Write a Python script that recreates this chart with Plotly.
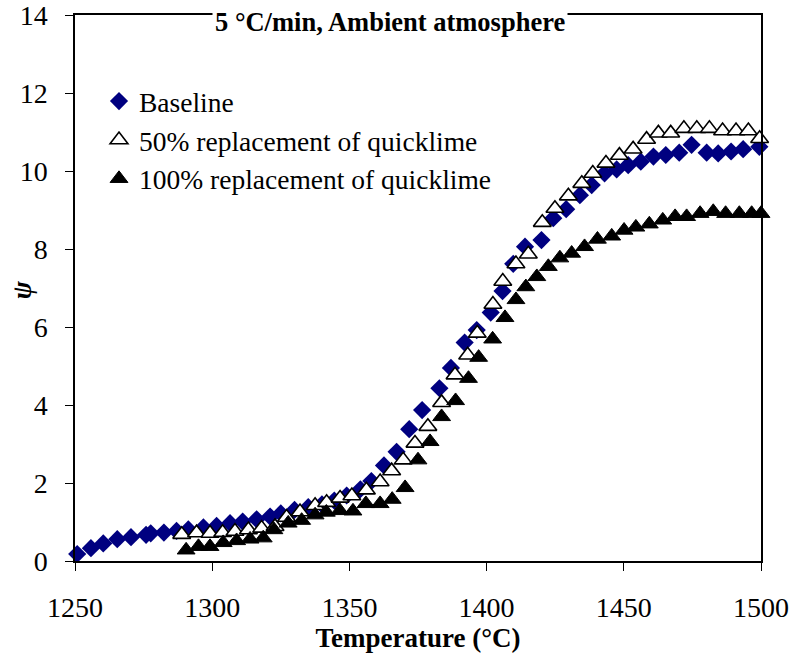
import plotly.graph_objects as go

# ---- data ----
x_ticks = [1250, 1300, 1350, 1400, 1450, 1500]
y_ticks = [0, 2, 4, 6, 8, 10, 12, 14]

base_T = [1250.8, 1255.8, 1260.3, 1265.4, 1270.4, 1275.9, 1277.6, 1282.4, 1287.0, 1291.3,
          1296.8, 1301.6, 1306.5, 1311.1, 1316.2, 1321.1, 1325.0, 1330.0, 1335.0, 1340.0,
          1344.5, 1349.0, 1354.0, 1358.0, 1362.6, 1367.2, 1371.8, 1376.5, 1382.8, 1387.0,
          1392.0, 1396.4, 1401.5, 1405.8, 1409.7, 1414.0, 1420.0, 1424.3, 1429.0, 1434.0,
          1438.3, 1443.0, 1447.4, 1451.6, 1456.2, 1460.8, 1465.3, 1470.2, 1474.7, 1480.2,
          1484.4, 1489.1, 1493.5, 1499.4]
base_psi = [0.18, 0.33, 0.45, 0.56, 0.61, 0.67, 0.71, 0.73, 0.77, 0.81,
            0.86, 0.90, 0.97, 1.01, 1.07, 1.14, 1.22, 1.31, 1.38, 1.45,
            1.55, 1.68, 1.84, 2.05, 2.45, 2.80, 3.38, 3.87, 4.43, 4.95,
            5.60, 5.92, 6.37, 6.92, 7.62, 8.06, 8.23, 8.79, 9.02, 9.38,
            9.64, 9.94, 10.04, 10.15, 10.24, 10.37, 10.41, 10.47, 10.67, 10.47,
            10.45, 10.50, 10.56, 10.62]

r50_T = [1288.9, 1294.3, 1299.2, 1303.8, 1308.3, 1313.2, 1318.0, 1322.9, 1327.1, 1332.0,
         1337.5, 1341.7, 1346.6, 1350.9, 1356.2, 1361.2, 1365.4, 1369.6, 1373.9, 1378.6,
         1383.6, 1388.5, 1393.1, 1396.6, 1402.3, 1405.9, 1410.7, 1415.2, 1420.3, 1424.9,
         1429.8, 1434.7, 1438.7, 1443.5, 1448.4, 1453.4, 1458.3, 1462.6, 1467.1, 1471.9,
         1476.6, 1481.2, 1486.0, 1490.9, 1495.4, 1499.5]
r50_psi = [0.68, 0.72, 0.71, 0.73, 0.76, 0.80, 0.84, 0.88, 1.12, 1.26,
           1.42, 1.50, 1.61, 1.67, 1.82, 2.03, 2.31, 2.59, 3.02, 3.45,
           4.06, 4.77, 5.28, 5.84, 6.58, 7.17, 7.62, 7.87, 8.68, 9.04,
           9.36, 9.68, 9.94, 10.20, 10.40, 10.56, 10.81, 10.97, 10.97, 11.09,
           11.09, 11.09, 11.03, 11.03, 11.03, 10.83]

r100_T = [1290.5, 1295.0, 1299.2, 1304.0, 1308.9, 1313.8, 1318.6, 1322.5, 1327.7, 1332.6,
          1337.5, 1341.6, 1346.5, 1351.3, 1356.0, 1361.2, 1365.6, 1370.3, 1375.0, 1379.4,
          1383.6, 1388.7, 1393.4, 1397.1, 1402.2, 1406.7, 1410.7, 1414.3, 1418.3, 1422.5,
          1426.7, 1431.0, 1435.7, 1440.4, 1445.6, 1450.1, 1454.4, 1459.3, 1464.2, 1468.7,
          1472.9, 1477.8, 1482.6, 1487.1, 1492.1, 1496.6, 1500.0]
r100_psi = [0.28, 0.37, 0.37, 0.47, 0.52, 0.56, 0.59, 0.80, 0.97, 1.04,
            1.18, 1.25, 1.29, 1.28, 1.47, 1.47, 1.58, 1.88, 2.59, 3.06,
            3.70, 4.11, 4.68, 5.22, 5.69, 6.24, 6.70, 7.03, 7.29, 7.55,
            7.77, 7.89, 8.06, 8.25, 8.33, 8.48, 8.56, 8.64, 8.74, 8.83,
            8.83, 8.91, 8.96, 8.91, 8.91, 8.91, 8.91]

names = ["Baseline", "50% replacement of quicklime", "100% replacement of quicklime"]
title_text = "5 °C/min, Ambient atmosphere"
x_title = "Temperature (°C)"
y_title = "ψ"

FONT = "Liberation Serif, Times New Roman, serif"

fig = go.Figure()
fig.add_trace(go.Scatter(x=base_T, y=base_psi, mode="markers", name=names[0],
                         legendgroup="a", cliponaxis=False,
                         marker=dict(symbol="diamond", size=14, color="#000080",
                                     line=dict(width=0))))
fig.add_trace(go.Scatter(x=r50_T, y=r50_psi, mode="markers", name=names[1],
                         legendgroup="b", cliponaxis=False,
                         marker=dict(symbol="triangle-up", size=15.5, color="white",
                                     line=dict(width=1.6, color="black"))))
fig.add_trace(go.Scatter(x=r100_T, y=r100_psi, mode="markers", name=names[2],
                         legendgroup="c", cliponaxis=False,
                         marker=dict(symbol="triangle-up", size=15.5, color="black",
                                     line=dict(width=1, color="black"))))

axis_common = dict(showline=True, linecolor="black", linewidth=1.5, mirror=True,
                   ticks="outside", ticklen=8, tickcolor="black", tickwidth=1.2,
                   showgrid=False, zeroline=False, ticklabeloverflow="allow",
                   tickfont=dict(family=FONT, size=28, color="black"))

fig.update_xaxes(range=[1250, 1500], tickvals=x_ticks, ticklabelstandoff=13,
                 title=dict(text="<b>" + x_title + "</b>",
                            font=dict(family=FONT, size=27, color="black"), standoff=0),
                 **axis_common)
fig.update_yaxes(range=[0, 14], tickvals=y_ticks, ticklabelstandoff=12,
                 **axis_common)

# y-axis title (placed close to the axis as in the reference)
fig.add_annotation(text="<b><i>" + y_title + "</i></b>", xref="paper", yref="paper",
                   x=-0.077, y=0.496, xanchor="center", yanchor="middle",
                   textangle=-90, showarrow=False,
                   font=dict(family=FONT, size=27, color="black"))

# chart title sitting on the top frame line
fig.add_annotation(text="<b>" + title_text + "</b>", xref="paper", yref="paper",
                   x=0.459, y=0.987, xanchor="center", yanchor="middle", showarrow=False,
                   bgcolor="white", borderpad=2,
                   font=dict(family=FONT, size=26.5, color="black"))

fig.update_layout(
    width=790, height=658,
    margin=dict(l=75, r=29, t=15, b=97, autoexpand=False),
    paper_bgcolor="white", plot_bgcolor="white",
    showlegend=True,
    legend=dict(x=0.035, y=0.887, xanchor="left", yanchor="top",
                bgcolor="rgba(0,0,0,0)", tracegroupgap=0,
                font=dict(family=FONT, size=27.5, color="black")),
)

fig.write_html("out.html", config={"displayModeBar": False},
               post_script="document.body.style.margin='0';document.body.style.overflow='hidden';")
